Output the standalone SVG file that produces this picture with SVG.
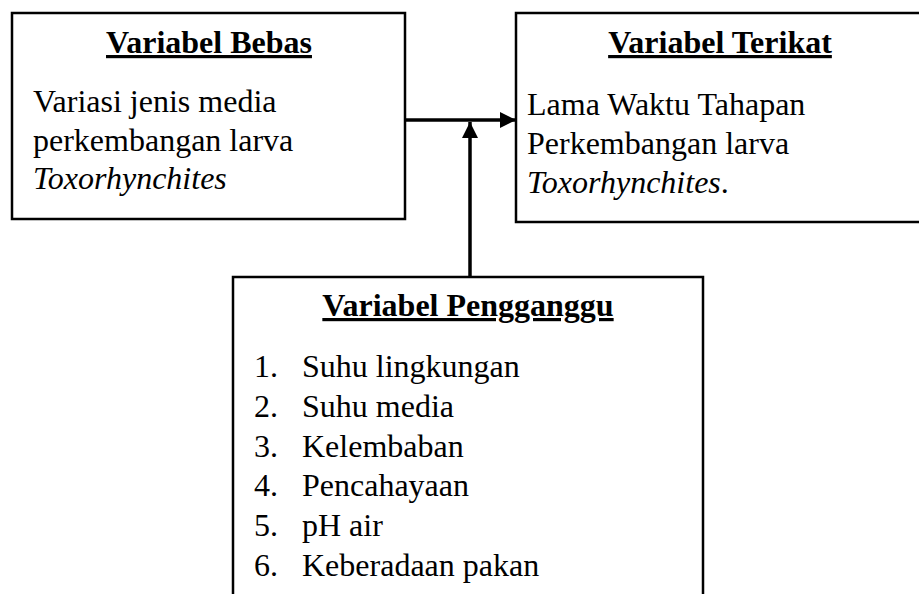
<svg xmlns="http://www.w3.org/2000/svg" width="919" height="594" viewBox="0 0 919 594">
<style>
.box{fill:#fff;stroke:#000;stroke-width:2.5}
.t{font-family:"Liberation Serif","Times New Roman",serif;font-size:32px;fill:#000}
.h{font-weight:bold;text-anchor:middle;text-decoration:underline}
.i{font-style:italic}
.c{stroke:#000;stroke-width:3.5;fill:none}
</style>
<defs>
<marker id="ah" markerUnits="userSpaceOnUse" markerWidth="18" markerHeight="18" refX="16" refY="8" orient="auto">
<path d="M0,0 L16,8 L0,16 Z" fill="#000"/>
</marker>
</defs>
<rect width="919" height="594" fill="#fff"/>
<g id="bebas">
<rect class="box" x="12" y="13" width="393" height="206"/>
<text class="t h" x="209" y="53">Variabel Bebas</text>
<text class="t" x="33" y="112">Variasi jenis media</text>
<text class="t" x="33" y="151">perkembangan larva</text>
<text class="t i" x="33" y="189">Toxorhynchites</text>
</g>
<g id="terikat">
<rect class="box" x="516" y="13" width="420" height="209"/>
<text class="t h" x="720" y="53">Variabel Terikat</text>
<text class="t" x="527" y="115">Lama Waktu Tahapan</text>
<text class="t" x="527" y="154">Perkembangan larva</text>
<text class="t i" x="527" y="193">Toxorhynchites<tspan font-style="normal">.</tspan></text>
</g>
<g id="pengganggu">
<rect class="box" x="233" y="277" width="470" height="340"/>
<text class="t h" x="468" y="316">Variabel Pengganggu</text>
<text class="t" x="254" y="377">1.</text><text class="t" x="302" y="377">Suhu lingkungan</text>
<text class="t" x="254" y="417">2.</text><text class="t" x="302" y="417">Suhu media</text>
<text class="t" x="254" y="457">3.</text><text class="t" x="302" y="457">Kelembaban</text>
<text class="t" x="254" y="496">4.</text><text class="t" x="302" y="496">Pencahayaan</text>
<text class="t" x="254" y="536">5.</text><text class="t" x="302" y="536">pH air</text>
<text class="t" x="254" y="576">6.</text><text class="t" x="302" y="576">Keberadaan pakan</text>
</g>
<g id="connectors">
<line class="c" x1="405" y1="120" x2="516" y2="120" marker-end="url(#ah)"/>
<line class="c" x1="470" y1="276" x2="470" y2="122" marker-end="url(#ah)"/>
</g>
</svg>
